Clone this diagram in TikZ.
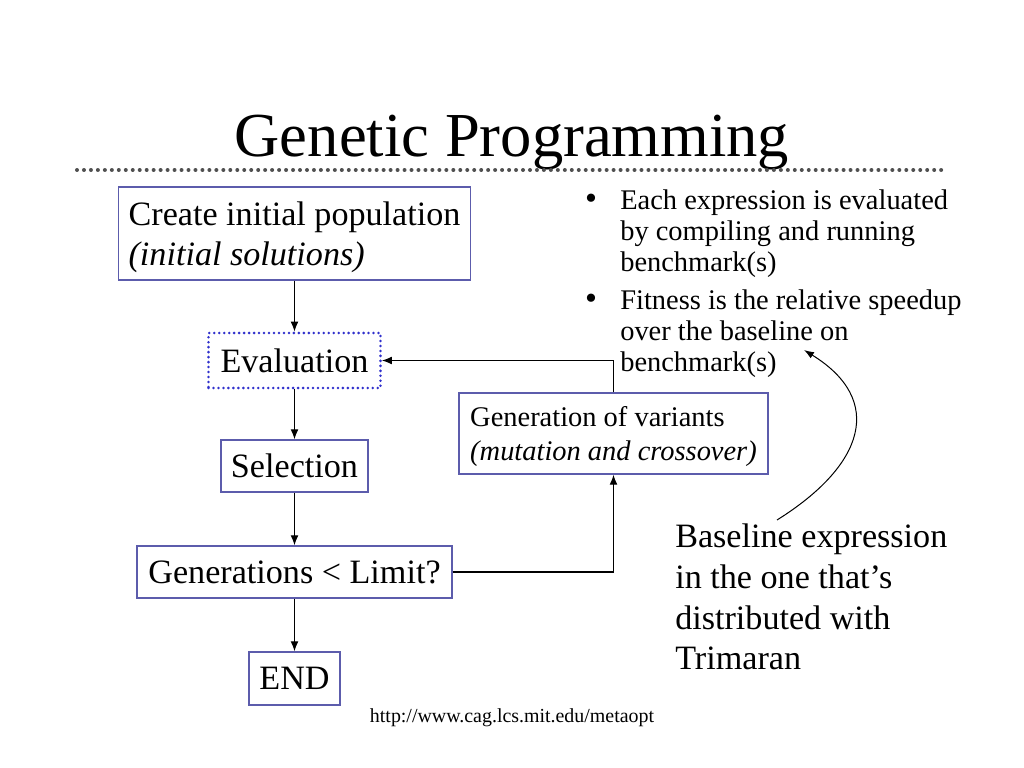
\documentclass[tikz,border=0pt]{standalone}
\usepackage{fontspec}
\setmainfont{Liberation Serif}
\usetikzlibrary{arrows.meta}

\definecolor{boxblue}{RGB}{92,92,172}
\definecolor{evalblue}{RGB}{48,48,204}
\definecolor{rulegray}{RGB}{80,80,80}
\def\u{0.703125pt}

\begin{document}
\begin{tikzpicture}[x=0.703125pt, y=-0.703125pt,
    box/.style={draw=boxblue, line width=1pt, align=left, inner sep=0pt},
    big/.style={font=\fontsize{24}{28}\selectfont},
    small/.style={font=\fontsize{20}{24}\selectfont},
    flow/.style={-{Latex[length=7pt,width=5.5pt]}, line width=0.8pt}]
  \useasboundingbox (0,0) rectangle (1024,768);

  \node[font=\fontsize{44}{50}\selectfont] (title) at (512,142.5) {Genetic Programming};
  \draw[rulegray, line width=2.8pt, line cap=round, dash pattern=on 0pt off 4.9pt] (77,170) -- (948,170);

  % flow chart
  \node[box, big, text depth=0pt, minimum width=352*\u, minimum height=93*\u] (create) at (294.5,233.5)
      {Create initial population\\\textit{(initial solutions)}};
  \node[box, big, draw=evalblue, line width=2pt, line cap=round, dash pattern=on 0pt off 3.5pt,
      minimum width=172*\u, minimum height=55*\u] (eval) at (294.5,360.5) {Evaluation};
  \node[box, big, minimum width=147*\u, minimum height=52*\u] (select) at (294.5,466) {Selection};
  \node[box, big, minimum width=315*\u, minimum height=52*\u] (limit) at (294.5,572) {Generations {<} Limit?};
  \node[box, big, minimum width=91*\u, minimum height=53*\u] (end) at (294.5,678.5) {END};
  \node[box, small, text depth=0pt, minimum width=309*\u, minimum height=81*\u] (vary) at (613.5,433.5)
      {Generation of variants\\\textit{(mutation and crossover)}};

  \draw[flow] (create) -- (eval);
  \draw[flow] (eval) -- (select);
  \draw[flow] (select) -- (limit);
  \draw[flow] (limit) -- (end);
  \draw[flow] (limit.east) -| (vary.south);
  \draw[flow] (vary.north) |- (eval.east);

  % bullets
  \node[font=\fontsize{24}{24}\selectfont] (dot1) at (591,202) {\textbullet};
  \node[font=\fontsize{20}{21.8}\selectfont, anchor=north west, align=left, inner sep=0pt] (fact1) at (620,189)
      {Each expression is evaluated\\by compiling and running\\benchmark(s)};
  \node[font=\fontsize{24}{24}\selectfont] (dot2) at (591,302) {\textbullet};
  \node[font=\fontsize{20}{21.8}\selectfont, anchor=north west, align=left, inner sep=0pt] (fact2) at (620,289)
      {Fitness is the relative speedup\\over the baseline on\\benchmark(s)};

  \node[font=\fontsize{24}{28.5}\selectfont, anchor=north west, align=left, inner sep=0pt] (note) at (675,524)
      {Baseline expression\\in the one that's\\distributed with\\Trimaran};
  \coordinate (tail) at (777,520);
  \coordinate (head) at (804,350);
  \draw[-{Latex[length=7pt,width=5pt]}, line width=0.7pt] (tail) .. controls (865,465) and (885,400) .. (head);

  \node[font=\fontsize{14}{16}\selectfont] (url) at (512,718) {http://www.cag.lcs.mit.edu/metaopt};
\end{tikzpicture}
\end{document}
